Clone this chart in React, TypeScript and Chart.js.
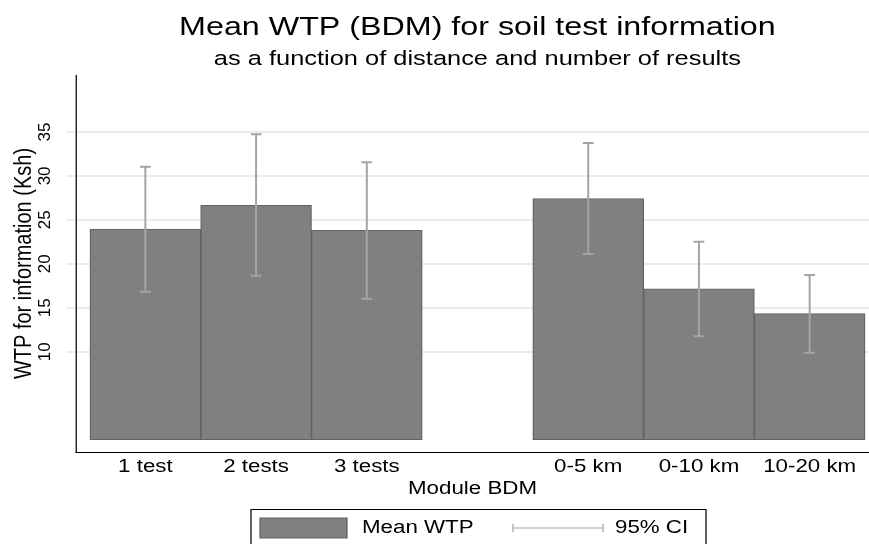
import React, { useEffect, useRef } from 'react';
import { Chart, registerables } from 'chart.js';

Chart.register(...registerables);

// ---------- data ----------
const categories = ['1 test', '2 tests', '3 tests', '0-5 km', '0-10 km', '10-20 km'];
const groups = ['results', 'results', 'results', 'distance', 'distance', 'distance'];
const meanWTP = [23.96, 26.65, 23.81, 27.41, 17.14, 14.33];
const ciLow = [16.83, 18.65, 16.03, 21.12, 11.75, 9.89];
const ciHigh = [31.05, 34.73, 31.55, 33.75, 22.52, 18.73];
const yTickValues = [10, 15, 20, 25, 30, 35];

const titleText = 'Mean WTP (BDM) for soil test information';
const subtitleText = 'as a function of distance and number of results';
const yTitleText = 'WTP for information (Ksh)';
const xTitleText = 'Module BDM';
const legendLabels = ['Mean WTP', '95% CI'];

// slot positions: one empty slot between groups
const positions = categories.map((_, i) => {
  let gaps = 0;
  for (let k = 1; k <= i; k++) if (groups[k] !== groups[k - 1]) gaps++;
  return i + 1 + gaps;
});

// ---------- layout constants ----------
const S = 1.24; // horizontal stretch of the reference image
const CANVAS_W = 955;
const CANVAS_H = 544;
const LOGICAL_W = 770;
const FONT = "'Liberation Sans', Arial, Helvetica, sans-serif";
const BAR_FILL = '#808080';
const BAR_EDGE = '#626262';
const CI_COLOR = '#a4a4a4';
const GRID_COLOR = '#ebebeb';

const stretchPlugin = {
  id: 'stretch',
  beforeDraw(chart: any) {
    chart.ctx.setTransform(S, 0, 0, 1, 0, 0);
  },
};

const errorBarPlugin = {
  id: 'errorBars',
  afterDatasetsDraw(chart: any) {
    const { ctx } = chart;
    const x = chart.scales.x;
    const y = chart.scales.y;
    ctx.save();
    ctx.strokeStyle = CI_COLOR;
    positions.forEach((p, i) => {
      const px = x.getPixelForValue(p);
      const yl = y.getPixelForValue(ciLow[i]);
      const yh = y.getPixelForValue(ciHigh[i]);
      ctx.lineWidth = 1.6;
      ctx.beginPath();
      ctx.moveTo(px, yl);
      ctx.lineTo(px, yh);
      ctx.stroke();
      ctx.lineWidth = 2;
      ctx.beginPath();
      ctx.moveTo(px - 4.3, yl);
      ctx.lineTo(px + 4.3, yl);
      ctx.moveTo(px - 4.3, yh);
      ctx.lineTo(px + 4.3, yh);
      ctx.stroke();
    });
    ctx.restore();
  },
};

const yTickPlugin = {
  id: 'yTickLabels',
  afterDraw(chart: any) {
    const { ctx, chartArea } = chart;
    const y = chart.scales.y;
    ctx.save();
    ctx.setTransform(1, 0, 0, 1, 0, 0);
    ctx.font = `17px ${FONT}`;
    ctx.fillStyle = '#000';
    ctx.textAlign = 'center';
    ctx.textBaseline = 'alphabetic';
    const bx = chartArea.left * S - 26;
    yTickValues.forEach((v) => {
      const py = y.getPixelForValue(v);
      ctx.save();
      ctx.translate(bx, py);
      ctx.rotate(-Math.PI / 2);
      ctx.fillText(String(v), 0, 0);
      ctx.restore();
    });
    ctx.restore();
  },
};

const legendPlugin = {
  id: 'boxLegend',
  afterDraw(chart: any) {
    const { ctx } = chart;
    const L = (px: number) => px / S;
    const top = 509.5;
    const mid = 528;
    ctx.save();
    ctx.strokeStyle = '#000';
    ctx.lineWidth = 1;
    ctx.strokeRect(L(251), top, L(706) - L(251), 45);
    // bar swatch
    ctx.fillStyle = BAR_FILL;
    ctx.fillRect(L(260), mid - 10, L(347) - L(260), 20);
    ctx.strokeStyle = BAR_EDGE;
    ctx.strokeRect(L(260), mid - 10, L(347) - L(260), 20);
    // CI symbol
    ctx.strokeStyle = CI_COLOR;
    ctx.lineWidth = 1;
    ctx.beginPath();
    ctx.moveTo(L(513), mid);
    ctx.lineTo(L(603), mid);
    ctx.moveTo(L(513), mid - 4);
    ctx.lineTo(L(513), mid + 4);
    ctx.moveTo(L(603), mid - 4);
    ctx.lineTo(L(603), mid + 4);
    ctx.stroke();
    // labels
    ctx.fillStyle = '#000';
    ctx.font = `18px ${FONT}`;
    ctx.textAlign = 'left';
    ctx.textBaseline = 'middle';
    ctx.fillText(legendLabels[0], L(362), mid);
    ctx.fillText(legendLabels[1], L(615), mid);
    ctx.restore();
  },
};

function BarChart() {
  const canvasRef = useRef<HTMLCanvasElement | null>(null);

  useEffect(() => {
    if (!canvasRef.current) return;
    Chart.defaults.font.family = FONT;
    Chart.defaults.color = '#000';

    const chart = new Chart(canvasRef.current, {
      type: 'bar',
      data: {
        datasets: [
          {
            label: legendLabels[0],
            data: positions.map((p, i) => ({ x: p, y: meanWTP[i] })),
            backgroundColor: BAR_FILL,
            borderColor: BAR_EDGE,
            borderWidth: 1,
            borderSkipped: false,
            barPercentage: 1,
            categoryPercentage: 1,
            xAxisID: 'x',
            yAxisID: 'y',
          } as any,
        ],
      },
      options: {
        responsive: false,
        animation: false,
        events: [],
        layout: { padding: { left: 0, right: CANVAS_W - LOGICAL_W, top: 0, bottom: 40 } },
        plugins: {
          legend: { display: false },
          tooltip: { enabled: false },
          title: {
            display: true,
            text: titleText,
            color: '#000',
            font: { size: 26, weight: 'normal', family: FONT },
            padding: { top: 12.3, bottom: 3.5 },
          },
          subtitle: {
            display: true,
            text: subtitleText,
            color: '#000',
            font: { size: 20.5, weight: 'normal', family: FONT },
            padding: { top: 0, bottom: 3.4 },
          },
        },
        scales: {
          x: {
            type: 'linear',
            position: 'bottom',
            offset: false,
            min: 0.3735,
            max: 7.536,
            afterBuildTicks: (s: any) => {
              s.ticks = positions.map((v) => ({ value: v }));
            },
            afterFit: (s: any) => {
              s.height = 52;
            },
            ticks: {
              autoSkip: false,
              maxRotation: 0,
              minRotation: 0,
              padding: 4,
              color: '#000',
              font: { size: 18, family: FONT },
              callback: (v: any) => {
                const idx = positions.indexOf(Number(v));
                return idx >= 0 ? categories[idx] : '';
              },
            },
            grid: { display: false, drawTicks: false, tickLength: 0, offset: false },
            border: { display: true, color: '#000', width: 1 },
            title: {
              display: true,
              text: xTitleText,
              color: '#000',
              font: { size: 18, family: FONT },
              padding: { top: 1, bottom: 3.8 },
            },
          },
          y: {
            type: 'linear',
            position: 'left',
            min: -1.41,
            max: 41.48,
            afterBuildTicks: (s: any) => {
              s.ticks = yTickValues.map((v) => ({ value: v }));
            },
            afterFit: (s: any) => {
              s.width = 76 / S;
            },
            ticks: { display: false },
            grid: {
              display: true,
              color: GRID_COLOR,
              tickColor: GRID_COLOR,
              lineWidth: 2,
              drawTicks: true,
              tickLength: 9 / S,
            },
            border: { display: true, color: '#000', width: 1 },
            title: {
              display: true,
              text: yTitleText,
              color: '#000',
              font: { size: 20, family: FONT },
              padding: { top: 7.4, bottom: 0 },
            },
          },
          yR: {
            type: 'linear',
            position: 'right',
            display: true,
            afterFit: (s: any) => {
              s.width = LOGICAL_W - 869 / S;
            },
            ticks: { display: false },
            grid: { display: false, drawTicks: false },
            border: { display: false },
          },
        },
      } as any,
      plugins: [stretchPlugin, errorBarPlugin, yTickPlugin, legendPlugin],
    });
    return () => chart.destroy();
  }, []);

  return (
    <canvas
      ref={canvasRef}
      width={CANVAS_W}
      height={CANVAS_H}
      style={{ display: 'block', width: CANVAS_W, height: CANVAS_H }}
    />
  );
}

export default function App() {
  return (
    <div
      style={{
        position: 'fixed',
        left: 0,
        top: 0,
        width: 869,
        height: 544,
        overflow: 'hidden',
        background: '#ffffff',
      }}
    >
      <BarChart />
    </div>
  );
}
